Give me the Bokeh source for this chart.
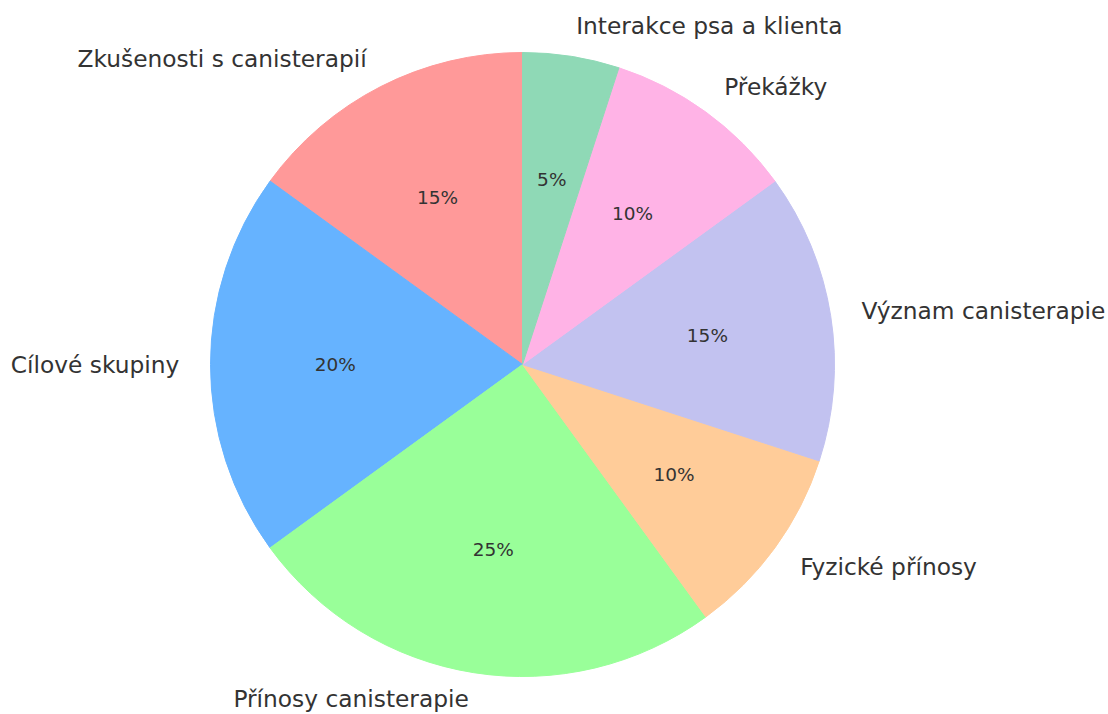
import math
from bokeh.plotting import figure
from bokeh.models import Range1d, ColumnDataSource
from bokeh.core.properties import value
from bokeh.embed import file_html
from bokeh.resources import INLINE

categories = ["Zkušenosti s canisterapií", "Cílové skupiny", "Přínosy canisterapie",
              "Fyzické přínosy", "Význam canisterapie", "Překážky", "Interakce psa a klienta"]
shares = [15, 20, 25, 10, 15, 10, 5]
colors = ["#ff9999", "#66b3ff", "#99ff99", "#ffcc99", "#c2c2f0", "#ffb3e6", "#8fd9b6"]

W, H = 1108, 714
p = figure(width=W, height=H, output_backend="svg", toolbar_location=None,
           x_range=Range1d(0, W), y_range=Range1d(0, H),
           min_border=0, outline_line_color=None)
p.axis.visible = False
p.grid.visible = False
p.background_fill_color = "white"
p.border_fill_color = "white"

cx, cy, r = 522, 714 - 364, 312
total = sum(shares)
starts, ends, mids = [], [], []
a = 90.0
for s in shares:
    sa = a
    ea = a + 360.0 * s / total
    starts.append(math.radians(sa))
    ends.append(math.radians(ea))
    mids.append(math.radians((sa + ea) / 2))
    a = ea

src = ColumnDataSource(dict(start=starts, end=ends, color=colors))
p.wedge(x=cx, y=cy, radius=r, start_angle="start", end_angle="end",
        fill_color="color", line_color="color", line_width=1, source=src,
        direction="anticlock")

lx, ly, align = [], [], []
px, py, pt = [], [], []
for m, s in zip(mids, shares):
    x = math.cos(m)
    y = math.sin(m)
    lx.append(cx + 1.1 * r * x)
    ly.append(max(cy + 1.1 * r * y, 16))
    align.append("left" if x > 0 else "right")
    px.append(cx + 0.6 * r * x)
    py.append(cy + 0.6 * r * y)
    pt.append(f"{s}%")

lsrc = ColumnDataSource(dict(x=lx, y=ly, t=categories, a=align))
p.text(x="x", y="y", text="t", text_align="a", text_baseline="middle",
       text_font=value("DejaVu Sans"), text_font_size="23.3px",
       text_color="#333333", source=lsrc)

psrc = ColumnDataSource(dict(x=px, y=py, t=pt))
p.text(x="x", y="y", text="t", text_align="center", text_baseline="middle",
       text_font=value("DejaVu Sans"), text_font_size="18.5px",
       text_color="#333333", source=psrc)

open("out.html", "w").write(file_html(p, INLINE))
